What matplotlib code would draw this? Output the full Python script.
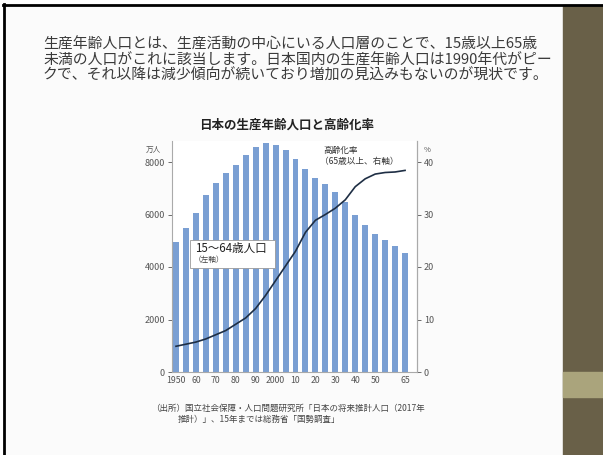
import matplotlib
matplotlib.use('Agg')
from matplotlib import pyplot as plt
from matplotlib.patches import Rectangle
import numpy as np

plt.rcParams['font.family'] = ['Noto Sans CJK JP', 'DejaVu Sans']
plt.rcParams['axes.unicode_minus'] = False

# data
years = list(range(1950, 2070, 5))
working_pop = [4966, 5473, 6047, 6744, 7212, 7581, 7884, 8251, 8590, 8726, 8638, 8442,
               8103, 7728, 7406, 7170, 6875, 6494, 5978, 5584, 5275, 5028, 4793, 4529]
aging_rate = [4.9, 5.3, 5.7, 6.3, 7.1, 7.9, 9.1, 10.3, 12.1, 14.6, 17.4, 20.2,
              23.0, 26.6, 28.9, 30.0, 31.2, 32.8, 35.3, 36.8, 37.7, 38.0, 38.1, 38.4]
tick_years = [1950, 1960, 1970, 1980, 1990, 2000, 2010, 2020, 2030, 2040, 2050, 2065]
tick_labels = ['1950', '60', '70', '80', '90', '2000', '10', '20', '30', '40', '50', '65']
left_ticks = [0, 2000, 4000, 6000, 8000]
right_ticks = [0, 10, 20, 30, 40]

intro = ['生産年齢人口とは、生産活動の中心にいる人口層のことで、15歳以上65歳',
         '未満の人口がこれに該当します。日本国内の生産年齢人口は1990年代がピー',
         'クで、それ以降は減少傾向が続いており増加の見込みもないのが現状です。']
source = ['（出所）国立社会保障・人口問題研究所「日本の将来推計人口（2017年',
          '推計）」、15年までは総務省「国勢調査」']

W, H = 603, 455
fig = plt.figure(figsize=(W / 100, H / 100), dpi=100)

# slide background (pixel coords)
bg = fig.add_axes([0, 0, 1, 1], zorder=-5)
bg.set_xlim(0, W)
bg.set_ylim(H, 0)
bg.axis('off')
bg.add_patch(Rectangle((4, 5), 559, 450, color='#fbfbfb'))
bg.add_patch(Rectangle((563, 5), 40, 450, color='#696048'))
bg.add_patch(Rectangle((563, 372), 40, 25, color='#aaa47c'))
bg.plot([4, 4], [4, 455], color='black', lw=2)
bg.plot([3, 603], [5, 5], color='black', lw=2)


def fx(x):
    return x / W


def fy(y):
    return 1 - y / H


for i, line in enumerate(intro):
    fig.text(fx(43), fy(45 + i * 15.5), line, fontsize=10.7, color='#3a3a3a',
             va='center', ha='left')

fig.text(fx(287), fy(125), '日本の生産年齢人口と高齢化率', fontsize=9,
         color='#222222', ha='center', va='center', fontweight='bold')

# chart
ax = fig.add_axes([fx(172), fy(372), fx(417) - fx(172), (372 - 141) / H])
x = np.arange(len(years))
ax.bar(x, working_pop, width=0.6, color='#7a9fd3', zorder=2)
ax.set_xlim(-0.4, 24.2)
ax.set_ylim(0, 8800)
ax.set_yticks(left_ticks)
ax.set_yticklabels([str(v) for v in left_ticks])
ax.set_xticks([years.index(y) for y in tick_years])
ax.set_xticklabels(tick_labels)
ax.tick_params(axis='y', labelsize=6.5, colors='#555555', length=3, width=0.6, pad=2)
ax.tick_params(axis='x', labelsize=6.3, colors='#555555', length=0, pad=3)
ax.spines['top'].set_visible(False)
for s in ['left', 'right', 'bottom']:
    ax.spines[s].set_color('#aaaaaa')
    ax.spines[s].set_linewidth(0.8)

ax2 = ax.twinx()
ax2.plot(x, aging_rate, color='#1e2e44', lw=1.2, zorder=3)
ax2.set_ylim(0, 44)
ax2.set_yticks(right_ticks)
ax2.tick_params(axis='y', labelsize=6.5, colors='#555555', length=3, width=0.6, pad=2)
ax2.spines['top'].set_visible(False)
ax2.spines['right'].set_color('#aaaaaa')
ax2.spines['left'].set_visible(False)
ax2.spines['bottom'].set_visible(False)

fig.text(fx(146), fy(150), '万人', fontsize=5.5, color='#555555', ha='left', va='center')
fig.text(fx(424), fy(150), '%', fontsize=5.5, color='#555555', ha='left', va='center')

fig.text(fx(323), fy(150), '高齢化率', fontsize=6.2, color='#333333', ha='left', va='center')
fig.text(fx(320), fy(161), '（65歳以上、右軸）', fontsize=6.2, color='#333333',
         ha='left', va='center')

# annotation box for the bars
fig.add_artist(Rectangle((fx(190), fy(268)), fx(275) - fx(190), (268 - 240) / H,
                         transform=fig.transFigure, fc='white', ec='#999999', lw=0.6,
                         zorder=5))
fig.text(fx(195), fy(248), '15～64歳人口', fontsize=8.3, color='#222222', ha='left',
         va='center', zorder=6)
fig.text(fx(194), fy(260), '（左軸）', fontsize=5.5, color='#444444', ha='left',
         va='center', zorder=6)

fig.text(fx(151), fy(408), source[0], fontsize=6.1, color='#444444', ha='left', va='center')
fig.text(fx(178), fy(419), source[1], fontsize=6.1, color='#444444', ha='left', va='center')

fig.savefig('out.png', dpi=100)
